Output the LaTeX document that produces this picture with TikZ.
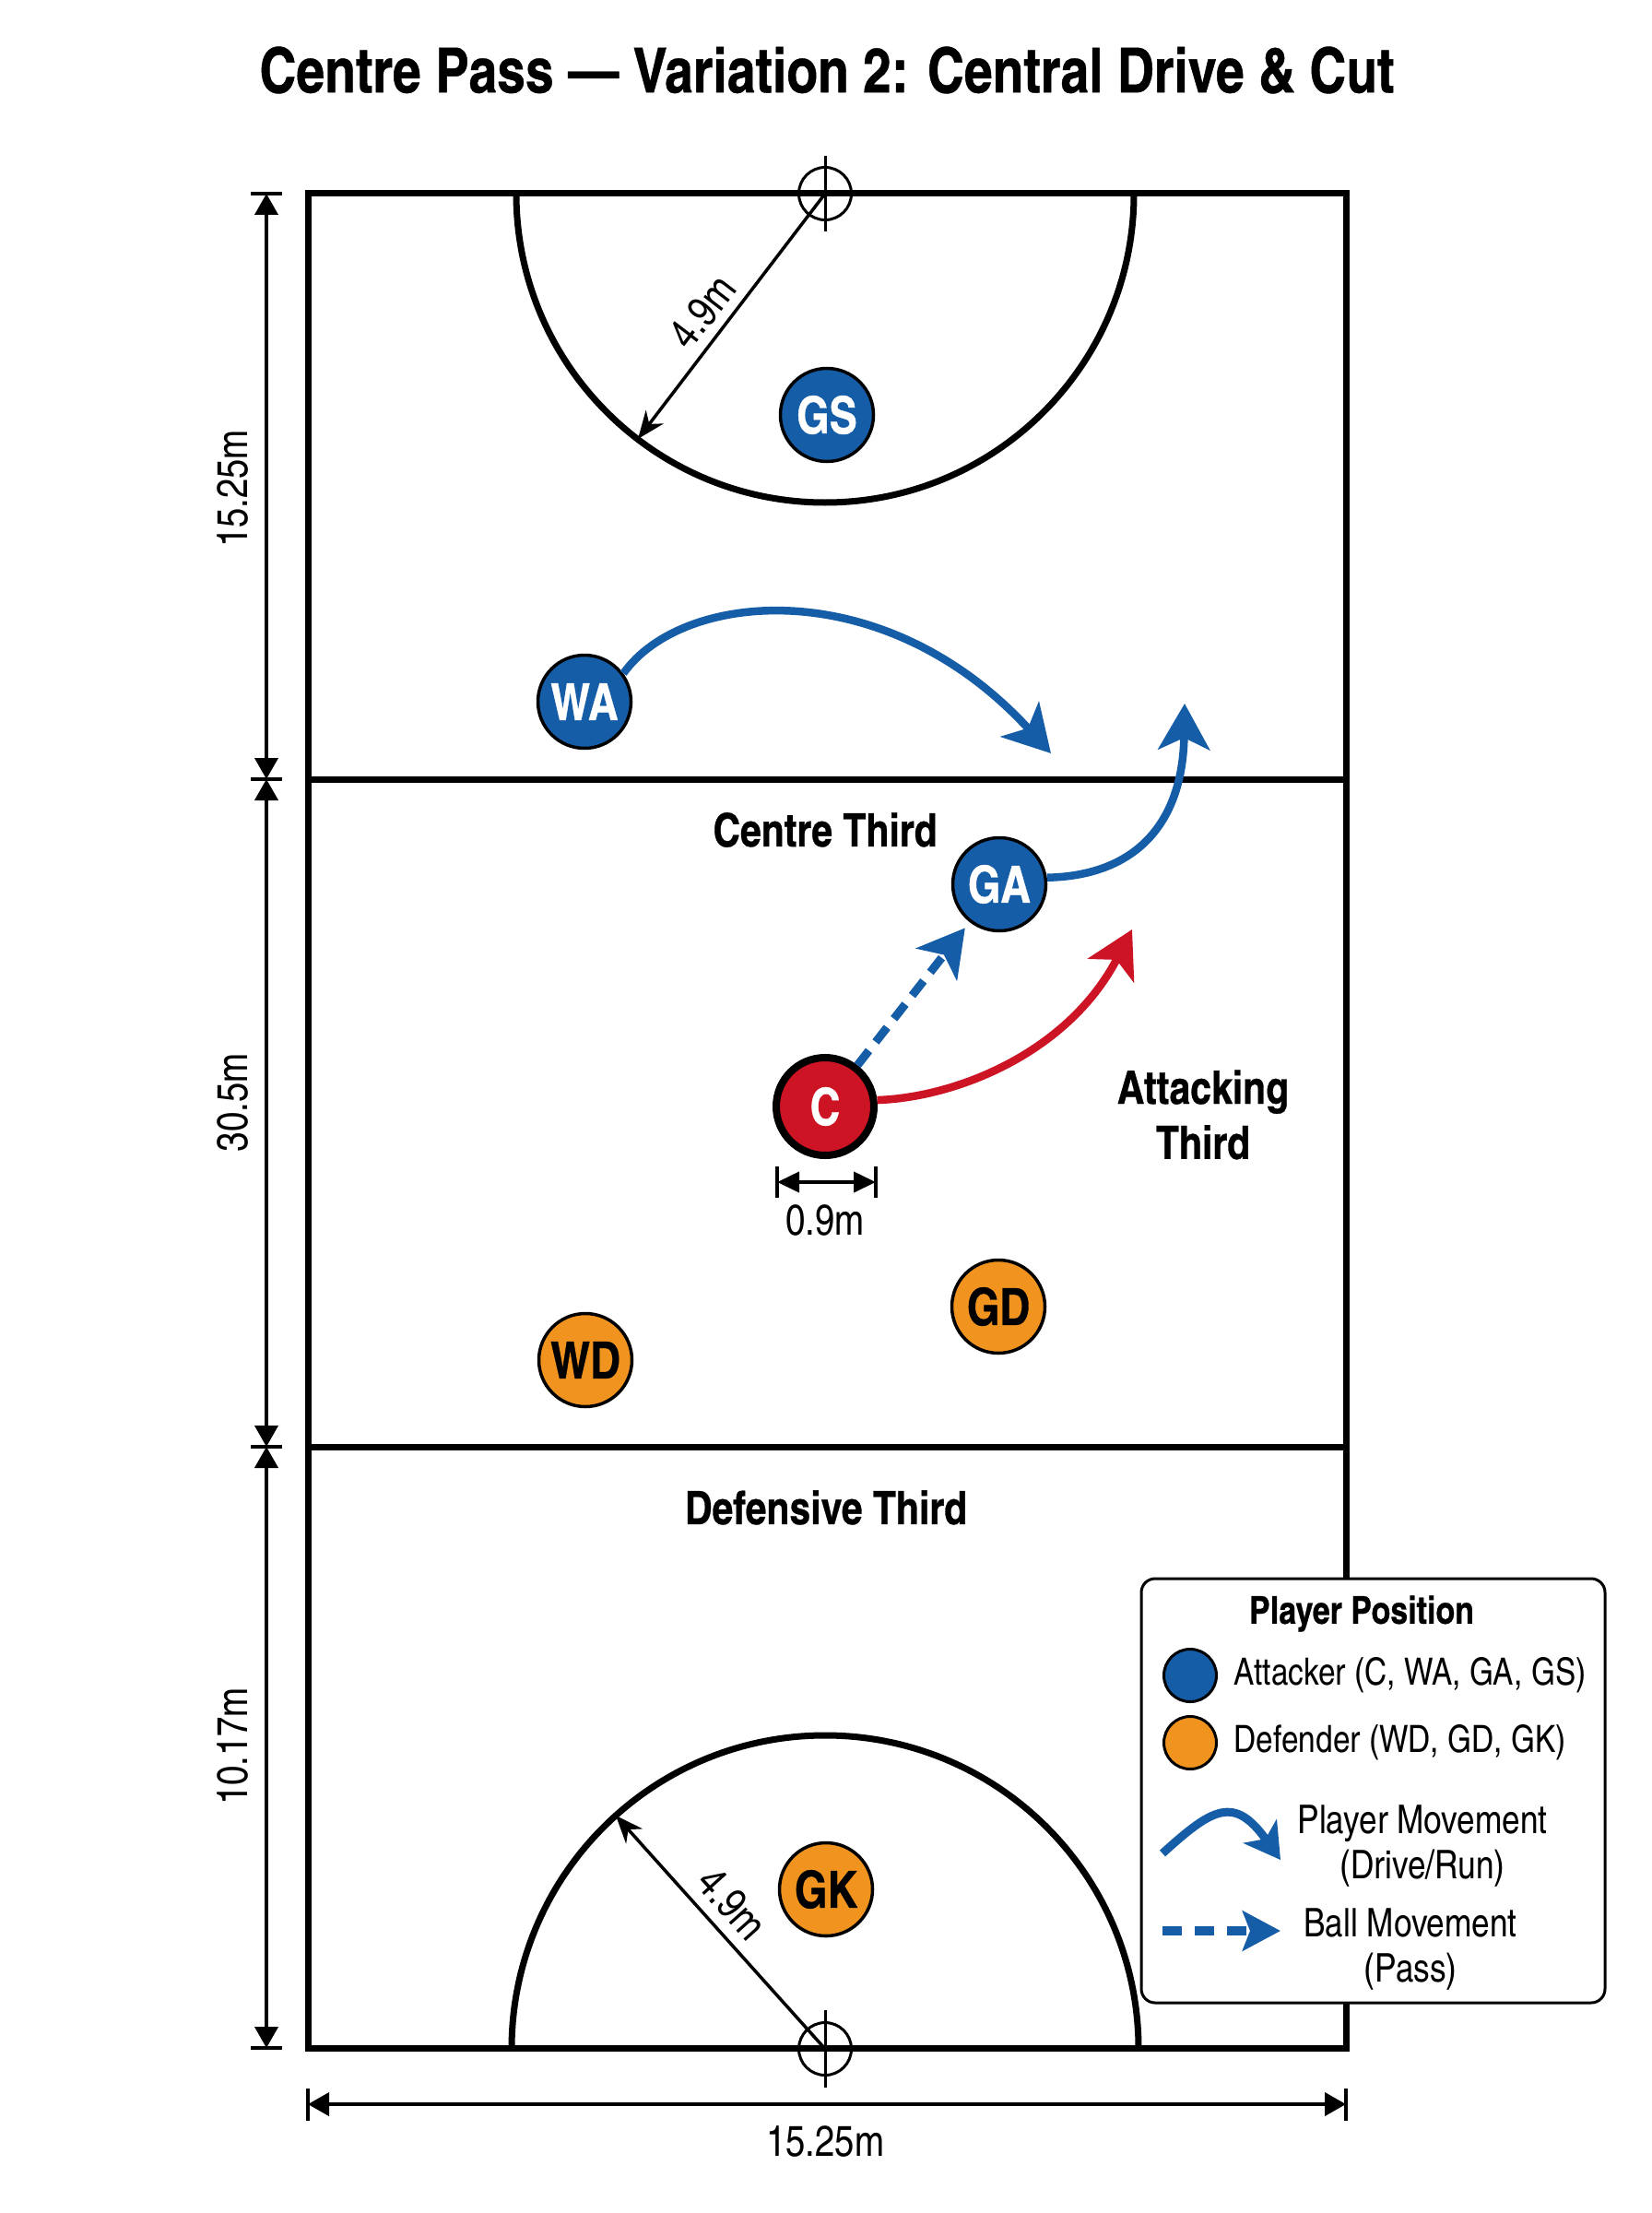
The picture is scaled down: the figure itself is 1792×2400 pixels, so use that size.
\documentclass[tikz,border=0pt]{standalone}
\usepackage{fontspec}
\setmainfont{texgyreheroscn}[Extension=.otf, UprightFont=*-regular, BoldFont=*-bold, ItalicFont=*-italic, BoldItalicFont=*-bolditalic, BoldFeatures={FakeBold=0.6}]
\usetikzlibrary{arrows.meta, positioning}
\definecolor{attblue}{RGB}{22,93,167}
\definecolor{defgold}{RGB}{240,147,31}
\definecolor{cred}{RGB}{204,20,36}

\begin{document}
\begin{tikzpicture}[x=0.1mm, y=-0.1mm,
    courtline/.style={line width=0.7mm, black},
    post/.style={circle, draw, line width=0.3mm, minimum size=5.7mm, inner sep=0pt},
    player/.style={circle, draw=black, line width=0.35mm, minimum size=10.1mm, inner sep=0pt, font=\fontsize{15.8}{16}\selectfont\bfseries},
    attk/.style={player, fill=attblue, text=white},
    defn/.style={player, fill=defgold, text=black},
    zone/.style={font=\fontsize{14.2}{17}\selectfont\bfseries, align=center},
    dimtxt/.style={font=\fontsize{13.3}{15}\selectfont, inner sep=1pt},
    dimline/.style={line width=0.4mm, {Triangle[length=2.3mm, width=2.5mm]}-{Triangle[length=2.3mm, width=2.5mm]}},
    rarrow/.style={line width=0.35mm, -{Stealth[length=3mm, width=2.4mm]}},
    move/.style={line width=0.85mm, -{Stealth[length=5mm, width=5.6mm, inset=1.3mm]}},
    pass/.style={move, line width=0.9mm, dash pattern=on 2mm off 1.2mm},
    legbox/.style={draw, line width=0.3mm, rounded corners=1.5mm, fill=white, minimum width=50.3mm, minimum height=46mm},
    legtxt/.style={font=\fontsize{11.6}{14.2}\selectfont, inner sep=0pt},
    ]
    \useasboundingbox (0,0) rectangle (1792,2400);
    \fill[white] (0,0) rectangle (1792,2400);

    % Title
    \node[font=\fontsize{19.2}{22}\selectfont\bfseries] (title) at (897,76) {Centre Pass — Variation 2: Central Drive \& Cut};

    % Court outline and thirds
    \draw[courtline] (334,210) rectangle (1460,2221);
    \draw[courtline] (334,845) -- (1460,845);
    \draw[courtline] (334,1569) -- (1460,1569);

    % Goal circles
    \draw[courtline] (560,210) arc[start angle=180, end angle=0, radius=335];
    \draw[courtline] (555,2222) arc[start angle=180, end angle=360, radius=340];

    % Goal posts
    \node[post] (postN) at (895,210) {};
    \draw[line width=0.3mm] (postN.center) ++(0,-41) -- ++(0,82);
    \node[post] (postS) at (895,2222) {};
    \draw[line width=0.3mm] (postS.center) ++(0,-42) -- ++(0,84);

    % Circle radius
    \coordinate (arcN) at (692,476);
    \coordinate (arcS) at (668,1969);
    \draw[rarrow] (postN.center) -- (arcN);
    \draw[rarrow] (postS.center) -- (arcS);
    \node[dimtxt, rotate=52.6] (radN) at (762,338) {4.9m};
    \node[dimtxt, rotate=-48.1] (radS) at (794,2065) {4.9m};

    % Zone labels
    \node[zone] (ctrlab) at (895,900) {Centre Third};
    \node[zone] (deflab) at (896,1635) {Defensive Third};
    \node[zone] (attlab) at (1305,1209) {Attacking\\Third};

    % Players
    \node[attk] (gs) at (897,450) {GS};
    \node[attk] (wa) at (634,761) {WA};
    \node[attk] (ga) at (1084,959) {GA};
    \node[attk, fill=cred, line width=0.8mm, minimum size=10.6mm] (c) at (895,1200) {C};
    \node[defn] (gd) at (1083,1417) {GD};
    \node[defn] (wd) at (635,1475) {WD};
    \node[defn] (gk) at (896,2049) {GK};

    % Movement
    \coordinate (waend) at (1140,817);
    \coordinate (gaend) at (1285,763);
    \coordinate (cend) at (1228,1008);
    \draw[move, attblue] (wa.36) .. controls (740,640) and (960,620) .. (waend);
    \draw[move, attblue] (ga.8) .. controls (1230,950) and (1283,895) .. (gaend);
    \draw[move, cred] (c.7) .. controls (1040,1190) and (1160,1140) .. (cend);
    \draw[pass, attblue, shorten >=0.8mm] (c) -- (ga);

    % Circle diameter
    \coordinate (cw) at (843,1282);
    \coordinate (ce) at (950,1282);
    \draw[dimline, {Triangle[length=2.4mm, width=2.2mm]}-{Triangle[length=2.4mm, width=2.2mm]}] (cw) -- (ce);
    \draw[line width=0.4mm] (cw) ++(0,-17) -- ++(0,34) (ce) ++(0,-17) -- ++(0,34);
    \node[dimtxt] (cdim) at (895,1323) {0.9m};

    % Court dimensions
    \foreach \ya/\yb/\lab/\ym [count=\i] in {210/845/15.25m/530, 845/1569/30.5m/1196, 1569/2221/10.17m/1894} {
        \coordinate (la\i) at (289,\ya);
        \coordinate (lb\i) at (289,\yb);
        \draw[dimline] (la\i) -- (lb\i);
        \node[dimtxt, rotate=90] (len\i) at (253,\ym) {\lab};
    }
    \foreach \yt in {210,845,1569,2221}
        \draw[line width=0.4mm] (272,\yt) -- (306,\yt);
    \coordinate (bw) at (334,2282);
    \coordinate (be) at (1460,2282);
    \draw[dimline] (bw) -- (be);
    \draw[line width=0.4mm] (bw) ++(0,-17) -- ++(0,35) (be) ++(0,-17) -- ++(0,35);
    \node[dimtxt] (wdim) at (895,2322) {15.25m};

    % Legend
    \node[legbox] (legend) at (1489.5,1942) {};
    \node[font=\fontsize{11.8}{13}\selectfont\bfseries] (legtitle) at (1477,1750) {Player Position};
    \node[attk, minimum size=5.7mm, line width=0.3mm] (legatt) at (1291,1817) {};
    \node[defn, minimum size=5.7mm, line width=0.3mm] (legdef) at (1291,1890) {};
    \node[legtxt, anchor=west] (legatttxt) at (1338,1817) {Attacker (C, WA, GA, GS)};
    \node[legtxt, anchor=west] (legdeftxt) at (1338,1890) {Defender (WD, GD, GK)};
    \coordinate (lgm1) at (1261,2010);
    \coordinate (lgm2) at (1389,2017);
    \draw[move, attblue, line width=0.9mm, -{Stealth[length=3.8mm, width=4.4mm, inset=1mm]}] (lgm1) .. controls (1316,1960) and (1339,1947) .. (lgm2);
    \node[legtxt, align=center, font=\fontsize{12.2}{14.2}\selectfont] (legmove) at (1543,2002) {Player Movement\\(Drive/Run)};
    \coordinate (lgb1) at (1261,2094);
    \coordinate (lgb2) at (1389,2094);
    \draw[pass, attblue, line width=1mm, dash pattern=on 2.1mm off 1.4mm, -{Stealth[length=4.1mm, width=4.3mm, inset=0.8mm]}] (lgb1) -- (lgb2);
    \node[legtxt, align=center, font=\fontsize{12.2}{14}\selectfont] (legball) at (1530,2114) {Ball Movement\\(Pass)};
\end{tikzpicture}
\end{document}
